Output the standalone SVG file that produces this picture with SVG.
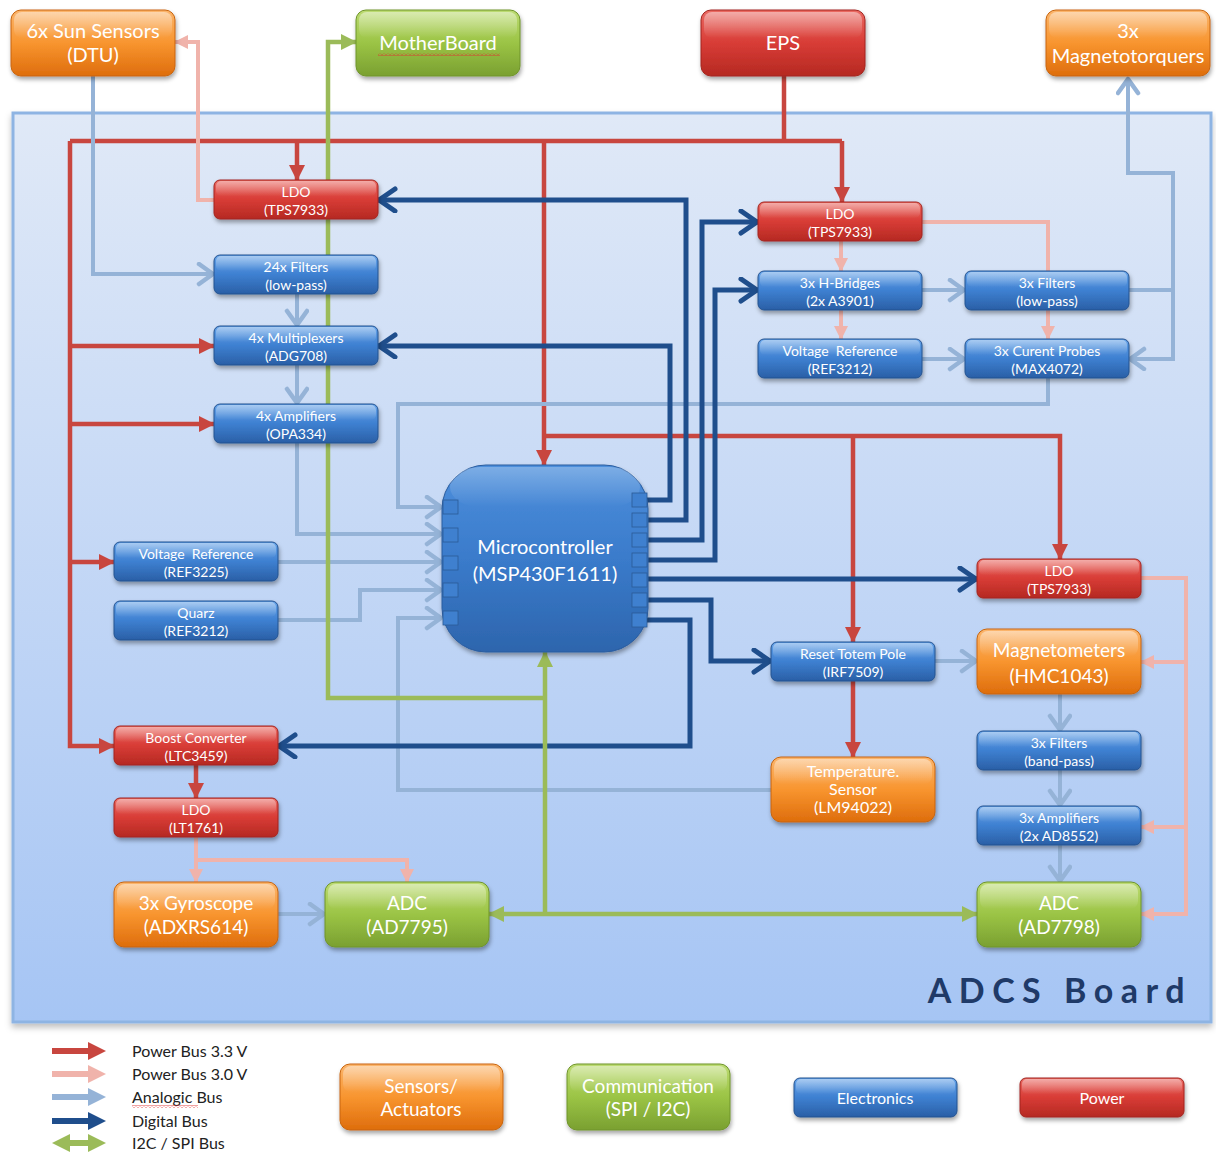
<svg xmlns="http://www.w3.org/2000/svg" width="1216" height="1153" viewBox="0 0 1216 1153">
  <defs>
    <linearGradient id="gBoard" x1="0" y1="0" x2="0" y2="1">
      <stop offset="0" stop-color="#e0e9f7"/>
      <stop offset="1" stop-color="#a6c5f4"/>
    </linearGradient>
    <linearGradient id="gOrange" x1="0" y1="0" x2="0" y2="1">
      <stop offset="0" stop-color="#fbb56c"/>
      <stop offset="0.5" stop-color="#f8952f"/>
      <stop offset="1" stop-color="#de6d0c"/>
    </linearGradient>
    <linearGradient id="gRed" x1="0" y1="0" x2="0" y2="1">
      <stop offset="0" stop-color="#ea6a63"/>
      <stop offset="0.5" stop-color="#d83c36"/>
      <stop offset="1" stop-color="#b52922"/>
    </linearGradient>
    <linearGradient id="gBlue" x1="0" y1="0" x2="0" y2="1">
      <stop offset="0" stop-color="#64a2e8"/>
      <stop offset="0.5" stop-color="#3e80d1"/>
      <stop offset="1" stop-color="#2a5fa6"/>
    </linearGradient>
    <linearGradient id="gGreen" x1="0" y1="0" x2="0" y2="1">
      <stop offset="0" stop-color="#bcdb72"/>
      <stop offset="0.5" stop-color="#9bc445"/>
      <stop offset="1" stop-color="#7aa031"/>
    </linearGradient>
    <linearGradient id="gMcu" x1="0" y1="0" x2="0" y2="1">
      <stop offset="0" stop-color="#4d8fdc"/>
      <stop offset="0.5" stop-color="#3a7bcb"/>
      <stop offset="1" stop-color="#2d65ad"/>
    </linearGradient>
    <linearGradient id="gGloss" x1="0" y1="0" x2="0" y2="1">
      <stop offset="0" stop-color="#fff" stop-opacity="0.45"/>
      <stop offset="1" stop-color="#fff" stop-opacity="0"/>
    </linearGradient>
    <filter id="shadow" x="-10%" y="-20%" width="130%" height="160%">
      <feDropShadow dx="1" dy="3" stdDeviation="2" flood-color="#000" flood-opacity="0.35"/>
    </filter>
    <filter id="boardShadow" x="-5%" y="-5%" width="110%" height="110%">
      <feDropShadow dx="0" dy="4" stdDeviation="3" flood-color="#000" flood-opacity="0.25"/>
    </filter>
    <pattern id="wavy" width="4" height="3" patternUnits="userSpaceOnUse">
      <polyline points="0,2.5 2,0.5 4,2.5" fill="none" stroke="#e03030" stroke-width="0.9"/>
    </pattern>

    <!-- arrowheads: filled triangles for power / I2C, open chevrons for signal buses -->
    <marker id="mRed" markerUnits="userSpaceOnUse" markerWidth="16" markerHeight="18" refX="15" refY="8" orient="auto">
      <path d="M0,0 L16,8 L0,16 Z" fill="#c8463f"/>
    </marker>
    <marker id="mPink" markerUnits="userSpaceOnUse" markerWidth="14" markerHeight="16" refX="13" refY="7" orient="auto">
      <path d="M0,0 L14,7 L0,14 Z" fill="#f0b3ab"/>
    </marker>
    <marker id="mGreen" markerUnits="userSpaceOnUse" markerWidth="16" markerHeight="18" refX="15" refY="8" orient="auto">
      <path d="M0,0 L16,8 L0,16 Z" fill="#9bbb59"/>
    </marker>
    <marker id="mGreenStart" markerUnits="userSpaceOnUse" markerWidth="16" markerHeight="18" refX="1" refY="8" orient="auto">
      <path d="M16,0 L0,8 L16,16 Z" fill="#9bbb59"/>
    </marker>
    <marker id="mAna" markerUnits="userSpaceOnUse" markerWidth="22" markerHeight="26" refX="19" refY="12" orient="auto">
      <polyline points="4,2 18,12 4,22" fill="none" stroke="#95b3d7" stroke-width="4.5" stroke-linecap="round" stroke-linejoin="round"/>
    </marker>
    <marker id="mDig" markerUnits="userSpaceOnUse" markerWidth="24" markerHeight="28" refX="21" refY="13" orient="auto">
      <polyline points="4,2 20,13 4,24" fill="none" stroke="#1f4e8c" stroke-width="5" stroke-linecap="round" stroke-linejoin="round"/>
    </marker>

    <style>
      .node text { font-family: Lato, "Open Sans", "Liberation Sans", sans-serif; fill: #fff; text-anchor: middle; white-space: pre; }
      .s14 { font-size: 14px; }
      .s16 { font-size: 16px; }
      .s19 { font-size: 19px; }
      .s20 { font-size: 20px; }
      .box { filter: url(#shadow); }
      .orange { fill: url(#gOrange); stroke: #c8650f; stroke-width: 1; }
      .red { fill: url(#gRed); stroke: #a2251f; stroke-width: 1; }
      .blue { fill: url(#gBlue); stroke: #25538f; stroke-width: 1; }
      .green { fill: url(#gGreen); stroke: #6f942a; stroke-width: 1; }
      .gloss { fill: url(#gGloss); }
      .pin { fill: #3f80cf; stroke: #2c5a96; stroke-width: 0.8; }
      .wire { fill: none; stroke-linejoin: miter; }
      .p33 { stroke: #c8463f; stroke-width: 4.5; }
      .p30 { stroke: #f0b3ab; stroke-width: 4; }
      .ana { stroke: #95b3d7; stroke-width: 4; }
      .dig { stroke: #1f4e8c; stroke-width: 5; }
      .i2c { stroke: #9bbb59; stroke-width: 4.5; }
      .legend text { font-family: Lato, "Open Sans", "Liberation Sans", sans-serif; font-size: 16px; fill: #222; }
    </style>
  </defs>

  <rect width="1216" height="1153" fill="#fff"/>

  <!-- board outline -->
  <g id="adcs-board">
    <rect x="13" y="113" width="1198" height="909" fill="url(#gBoard)" stroke="#8eb4e3" stroke-width="3" filter="url(#boardShadow)"/>
    <text x="1192" y="1003" text-anchor="end" font-family="Lato, 'Open Sans', 'Liberation Sans', sans-serif" font-size="34" font-weight="bold" letter-spacing="7.5" fill="#1f3a68">ADCS Board</text>
  </g>

  <!-- connectors -->
  <g id="connectors">
    <!-- 3.3 V power -->
    <path class="wire p33" d="M784,76 V141"/>
    <path class="wire p33" d="M70,141 H842"/>
    <path class="wire p33" d="M842,141 V202" marker-end="url(#mRed)"/>
    <path class="wire p33" d="M297,141 V180" marker-end="url(#mRed)"/>
    <path class="wire p33" d="M544,141 V465" marker-end="url(#mRed)"/>
    <path class="wire p33" d="M70,141 V746 H114" marker-end="url(#mRed)"/>
    <path class="wire p33" d="M70,346 H214" marker-end="url(#mRed)"/>
    <path class="wire p33" d="M70,424 H214" marker-end="url(#mRed)"/>
    <path class="wire p33" d="M70,562 H114" marker-end="url(#mRed)"/>
    <path class="wire p33" d="M544,436 H1060 V559" marker-end="url(#mRed)"/>
    <path class="wire p33" d="M853,436 V642" marker-end="url(#mRed)"/>
    <path class="wire p33" d="M853,681 V757" marker-end="url(#mRed)"/>
    <path class="wire p33" d="M196,765 V798" marker-end="url(#mRed)"/>

    <!-- 3.0 V power -->
    <path class="wire p30" d="M214,200 H198 V42 H175" marker-end="url(#mPink)"/>
    <path class="wire p30" d="M922,222 H1048 V271"/>
    <path class="wire p30" d="M1048,310 V339" marker-end="url(#mPink)"/>
    <path class="wire p30" d="M841,241 V271" marker-end="url(#mPink)"/>
    <path class="wire p30" d="M841,310 V339" marker-end="url(#mPink)"/>
    <path class="wire p30" d="M1141,578 H1186 V914 H1141" marker-end="url(#mPink)"/>
    <path class="wire p30" d="M1186,662 H1141" marker-end="url(#mPink)"/>
    <path class="wire p30" d="M1186,827 H1141" marker-end="url(#mPink)"/>
    <path class="wire p30" d="M196,837 V882" marker-end="url(#mPink)"/>
    <path class="wire p30" d="M196,860 H407 V882" marker-end="url(#mPink)"/>

    <!-- analogic bus -->
    <path class="wire ana" d="M93,76 V274 H214" marker-end="url(#mAna)"/>
    <path class="wire ana" d="M297,294 V326" marker-end="url(#mAna)"/>
    <path class="wire ana" d="M297,365 V404" marker-end="url(#mAna)"/>
    <path class="wire ana" d="M297,443 V534 H442" marker-end="url(#mAna)"/>
    <path class="wire ana" d="M1048,378 V404 H398 V507 H442" marker-end="url(#mAna)"/>
    <path class="wire ana" d="M278,562 H442" marker-end="url(#mAna)"/>
    <path class="wire ana" d="M278,620 H360 V590 H442" marker-end="url(#mAna)"/>
    <path class="wire ana" d="M771,790 H398 V618 H442" marker-end="url(#mAna)"/>
    <path class="wire ana" d="M922,290 H965" marker-end="url(#mAna)"/>
    <path class="wire ana" d="M922,359 H965" marker-end="url(#mAna)"/>
    <path class="wire ana" d="M1129,290 H1173"/>
    <path class="wire ana" d="M1173,173 V359 H1129" marker-end="url(#mAna)"/>
    <path class="wire ana" d="M1175,173 H1128 V78" marker-end="url(#mAna)"/>
    <path class="wire ana" d="M935,661 H977" marker-end="url(#mAna)"/>
    <path class="wire ana" d="M1060,694 V731" marker-end="url(#mAna)"/>
    <path class="wire ana" d="M1060,770 V806" marker-end="url(#mAna)"/>
    <path class="wire ana" d="M1060,845 V882" marker-end="url(#mAna)"/>
    <path class="wire ana" d="M278,914 H325" marker-end="url(#mAna)"/>

    <!-- digital bus -->
    <path class="wire dig" d="M646,500 H670 V346 H378" marker-end="url(#mDig)"/>
    <path class="wire dig" d="M646,520 H686 V200 H378" marker-end="url(#mDig)"/>
    <path class="wire dig" d="M646,540 H702 V222 H758" marker-end="url(#mDig)"/>
    <path class="wire dig" d="M646,560 H715 V290 H758" marker-end="url(#mDig)"/>
    <path class="wire dig" d="M646,579 H977" marker-end="url(#mDig)"/>
    <path class="wire dig" d="M646,600 H711 V661 H771" marker-end="url(#mDig)"/>
    <path class="wire dig" d="M646,620 H690 V746 H278" marker-end="url(#mDig)"/>

    <!-- I2C / SPI bus -->
    <path class="wire i2c" d="M545,698 H328 V42 H356" marker-end="url(#mGreen)"/>
    <path class="wire i2c" d="M545,914 V652" marker-end="url(#mGreen)"/>
    <path class="wire i2c" d="M489,914 H977" marker-start="url(#mGreenStart)" marker-end="url(#mGreen)"/>
  </g>

  <!-- external units -->
  <g id="sun-sensors" class="node">
    <rect class="box orange" x="11" y="10" width="164" height="66" rx="10"/>
    <rect class="gloss" x="14" y="12" width="158" height="26" rx="8"/>
    <text class="s20" x="93" y="38">6x Sun Sensors</text>
    <text class="s20" x="93" y="62">(DTU)</text>
  </g>
  <g id="motherboard" class="node">
    <rect class="box green" x="356" y="10" width="164" height="66" rx="10"/>
    <rect class="gloss" x="359" y="12" width="158" height="26" rx="8"/>
    <text class="s20" x="438" y="50">MotherBoard</text>
    <rect x="378" y="53" width="122" height="3" fill="url(#wavy)"/>
  </g>
  <g id="eps" class="node">
    <rect class="box red" x="701" y="10" width="164" height="66" rx="10"/>
    <rect class="gloss" x="704" y="12" width="158" height="26" rx="8"/>
    <text class="s20" x="783" y="50">EPS</text>
  </g>
  <g id="magnetotorquers" class="node">
    <rect class="box orange" x="1046" y="10" width="164" height="66" rx="10"/>
    <rect class="gloss" x="1049" y="12" width="158" height="26" rx="8"/>
    <text class="s20" x="1128" y="38">3x</text>
    <text class="s20" x="1128" y="63">Magnetotorquers</text>
  </g>

  <!-- sun sensor chain -->
  <g id="ldo-left" class="node">
    <rect class="box red" x="214" y="180" width="164" height="39" rx="6"/>
    <rect class="gloss" x="216" y="181" width="160" height="15" rx="5"/>
    <text class="s14" x="296" y="197">LDO</text>
    <text class="s14" x="296" y="215">(TPS7933)</text>
  </g>
  <g id="filters-24" class="node">
    <rect class="box blue" x="214" y="255" width="164" height="39" rx="6"/>
    <rect class="gloss" x="216" y="256" width="160" height="15" rx="5"/>
    <text class="s14" x="296" y="272">24x Filters</text>
    <text class="s14" x="296" y="290">(low-pass)</text>
  </g>
  <g id="multiplexers" class="node">
    <rect class="box blue" x="214" y="326" width="164" height="39" rx="6"/>
    <rect class="gloss" x="216" y="327" width="160" height="15" rx="5"/>
    <text class="s14" x="296" y="343">4x Multiplexers</text>
    <text class="s14" x="296" y="361">(ADG708)</text>
  </g>
  <g id="amplifiers-4" class="node">
    <rect class="box blue" x="214" y="404" width="164" height="39" rx="6"/>
    <rect class="gloss" x="216" y="405" width="160" height="15" rx="5"/>
    <text class="s14" x="296" y="421">4x Amplifiers</text>
    <text class="s14" x="296" y="439">(OPA334)</text>
  </g>

  <!-- references, clock and gyro supply -->
  <g id="vref-ref3225" class="node">
    <rect class="box blue" x="114" y="542" width="164" height="39" rx="6"/>
    <rect class="gloss" x="116" y="543" width="160" height="15" rx="5"/>
    <text class="s14" x="196" y="559">Voltage  Reference</text>
    <text class="s14" x="196" y="577">(REF3225)</text>
  </g>
  <g id="quarz" class="node">
    <rect class="box blue" x="114" y="601" width="164" height="39" rx="6"/>
    <rect class="gloss" x="116" y="602" width="160" height="15" rx="5"/>
    <text class="s14" x="196" y="618">Quarz</text>
    <text class="s14" x="196" y="636">(REF3212)</text>
  </g>
  <g id="boost-converter" class="node">
    <rect class="box red" x="114" y="726" width="164" height="39" rx="6"/>
    <rect class="gloss" x="116" y="727" width="160" height="15" rx="5"/>
    <text class="s14" x="196" y="743">Boost Converter</text>
    <text class="s14" x="196" y="761">(LTC3459)</text>
  </g>
  <g id="ldo-lt1761" class="node">
    <rect class="box red" x="114" y="798" width="164" height="39" rx="6"/>
    <rect class="gloss" x="116" y="799" width="160" height="15" rx="5"/>
    <text class="s14" x="196" y="815">LDO</text>
    <text class="s14" x="196" y="833">(LT1761)</text>
  </g>
  <g id="gyroscope" class="node">
    <rect class="box orange" x="114" y="882" width="164" height="65" rx="10"/>
    <rect class="gloss" x="117" y="884" width="158" height="25" rx="8"/>
    <text class="s19" x="196" y="910">3x Gyroscope</text>
    <text class="s19" x="196" y="934">(ADXRS614)</text>
  </g>
  <g id="adc-ad7795" class="node">
    <rect class="box green" x="325" y="882" width="164" height="65" rx="10"/>
    <rect class="gloss" x="328" y="884" width="158" height="25" rx="8"/>
    <text class="s19" x="407" y="910">ADC</text>
    <text class="s19" x="407" y="934">(AD7795)</text>
  </g>

  <!-- microcontroller -->
  <g id="microcontroller" class="node">
    <rect class="box" x="442" y="465" width="206" height="187" rx="44" fill="url(#gMcu)" stroke="#2a5c9e" stroke-width="1"/>
    <rect class="gloss" x="450" y="467" width="190" height="40" rx="30" opacity="0.6"/>
    <rect class="pin" x="443" y="500" width="15" height="14"/>
    <rect class="pin" x="443" y="528" width="15" height="14"/>
    <rect class="pin" x="443" y="556" width="15" height="14"/>
    <rect class="pin" x="443" y="583" width="15" height="14"/>
    <rect class="pin" x="443" y="611" width="15" height="14"/>
    <rect class="pin" x="632" y="493" width="15" height="14"/>
    <rect class="pin" x="632" y="513" width="15" height="14"/>
    <rect class="pin" x="632" y="533" width="15" height="14"/>
    <rect class="pin" x="632" y="553" width="15" height="14"/>
    <rect class="pin" x="632" y="573" width="15" height="14"/>
    <rect class="pin" x="632" y="593" width="15" height="14"/>
    <rect class="pin" x="632" y="613" width="15" height="14"/>
    <text class="s20" x="545" y="554">Microcontroller</text>
    <text class="s20" x="545" y="581">(MSP430F1611)</text>
  </g>

  <!-- magnetotorquer driver chain -->
  <g id="ldo-right-top" class="node">
    <rect class="box red" x="758" y="202" width="164" height="39" rx="6"/>
    <rect class="gloss" x="760" y="203" width="160" height="15" rx="5"/>
    <text class="s14" x="840" y="219">LDO</text>
    <text class="s14" x="840" y="237">(TPS7933)</text>
  </g>
  <g id="h-bridges" class="node">
    <rect class="box blue" x="758" y="271" width="164" height="39" rx="6"/>
    <rect class="gloss" x="760" y="272" width="160" height="15" rx="5"/>
    <text class="s14" x="840" y="288">3x H-Bridges</text>
    <text class="s14" x="840" y="306">(2x A3901)</text>
  </g>
  <g id="filters-3-lp" class="node">
    <rect class="box blue" x="965" y="271" width="164" height="39" rx="6"/>
    <rect class="gloss" x="967" y="272" width="160" height="15" rx="5"/>
    <text class="s14" x="1047" y="288">3x Filters</text>
    <text class="s14" x="1047" y="306">(low-pass)</text>
  </g>
  <g id="vref-ref3212" class="node">
    <rect class="box blue" x="758" y="339" width="164" height="39" rx="6"/>
    <rect class="gloss" x="760" y="340" width="160" height="15" rx="5"/>
    <text class="s14" x="840" y="356">Voltage  Reference</text>
    <text class="s14" x="840" y="374">(REF3212)</text>
  </g>
  <g id="current-probes" class="node">
    <rect class="box blue" x="965" y="339" width="164" height="39" rx="6"/>
    <rect class="gloss" x="967" y="340" width="160" height="15" rx="5"/>
    <text class="s14" x="1047" y="356">3x Curent Probes</text>
    <text class="s14" x="1047" y="374">(MAX4072)</text>
  </g>

  <!-- magnetometer chain -->
  <g id="ldo-right" class="node">
    <rect class="box red" x="977" y="559" width="164" height="39" rx="6"/>
    <rect class="gloss" x="979" y="560" width="160" height="15" rx="5"/>
    <text class="s14" x="1059" y="576">LDO</text>
    <text class="s14" x="1059" y="594">(TPS7933)</text>
  </g>
  <g id="reset-totem-pole" class="node">
    <rect class="box blue" x="771" y="642" width="164" height="39" rx="6"/>
    <rect class="gloss" x="773" y="643" width="160" height="15" rx="5"/>
    <text class="s14" x="853" y="659">Reset Totem Pole</text>
    <text class="s14" x="853" y="677">(IRF7509)</text>
  </g>
  <g id="magnetometers" class="node">
    <rect class="box orange" x="977" y="629" width="164" height="65" rx="10"/>
    <rect class="gloss" x="980" y="631" width="158" height="25" rx="8"/>
    <text class="s19" x="1059" y="657">Magnetometers</text>
    <text class="s19" x="1059" y="683">(HMC1043)</text>
  </g>
  <g id="temperature-sensor" class="node">
    <rect class="box orange" x="771" y="757" width="164" height="65" rx="10"/>
    <rect class="gloss" x="774" y="759" width="158" height="25" rx="8"/>
    <text class="s16" x="853" y="777">Temperature.</text>
    <text class="s16" x="853" y="795">Sensor</text>
    <text class="s16" x="853" y="813">(LM94022)</text>
  </g>
  <g id="filters-bp" class="node">
    <rect class="box blue" x="977" y="731" width="164" height="39" rx="6"/>
    <rect class="gloss" x="979" y="732" width="160" height="15" rx="5"/>
    <text class="s14" x="1059" y="748">3x Filters</text>
    <text class="s14" x="1059" y="766">(band-pass)</text>
  </g>
  <g id="amplifiers-3" class="node">
    <rect class="box blue" x="977" y="806" width="164" height="39" rx="6"/>
    <rect class="gloss" x="979" y="807" width="160" height="15" rx="5"/>
    <text class="s14" x="1059" y="823">3x Amplifiers</text>
    <text class="s14" x="1059" y="841">(2x AD8552)</text>
  </g>
  <g id="adc-ad7798" class="node">
    <rect class="box green" x="977" y="882" width="164" height="65" rx="10"/>
    <rect class="gloss" x="980" y="884" width="158" height="25" rx="8"/>
    <text class="s19" x="1059" y="910">ADC</text>
    <text class="s19" x="1059" y="934">(AD7798)</text>
  </g>

  <!-- legend -->
  <g id="legend" class="legend">
    <path d="M52,1051 H90" stroke="#c8463f" stroke-width="6"/>
    <path d="M88,1042 L106,1051 L88,1060 Z" fill="#c8463f"/>
    <path d="M52,1074 H90" stroke="#f0b3ab" stroke-width="6"/>
    <path d="M88,1065 L106,1074 L88,1083 Z" fill="#f0b3ab"/>
    <path d="M52,1097 H90" stroke="#95b3d7" stroke-width="6"/>
    <path d="M88,1088 L106,1097 L88,1106 Z" fill="#95b3d7"/>
    <path d="M52,1121 H90" stroke="#1f4e8c" stroke-width="6"/>
    <path d="M88,1112 L106,1121 L88,1130 Z" fill="#1f4e8c"/>
    <path d="M68,1143 H90" stroke="#9bbb59" stroke-width="6"/>
    <path d="M88,1134 L106,1143 L88,1152 Z" fill="#9bbb59"/>
    <path d="M70,1134 L52,1143 L70,1152 Z" fill="#9bbb59"/>
    <text x="132" y="1057">Power Bus 3.3 V</text>
    <text x="132" y="1080">Power Bus 3.0 V</text>
    <text x="132" y="1103">Analogic Bus</text>
    <rect x="132" y="1105" width="66" height="3" fill="url(#wavy)"/>
    <text x="132" y="1127">Digital Bus</text>
    <text x="132" y="1149">I2C / SPI Bus</text>
  </g>
  <g id="legend-sensors" class="node">
    <rect class="box orange" x="340" y="1064" width="163" height="66" rx="10"/>
    <rect class="gloss" x="343" y="1066" width="157" height="26" rx="8"/>
    <text class="s19" x="421" y="1093">Sensors/</text>
    <text class="s19" x="421" y="1116">Actuators</text>
  </g>
  <g id="legend-communication" class="node">
    <rect class="box green" x="567" y="1064" width="163" height="66" rx="10"/>
    <rect class="gloss" x="570" y="1066" width="157" height="26" rx="8"/>
    <text class="s19" x="648" y="1093">Communication</text>
    <text class="s19" x="648" y="1116">(SPI / I2C)</text>
  </g>
  <g id="legend-electronics" class="node">
    <rect class="box blue" x="794" y="1078" width="163" height="39" rx="6"/>
    <rect class="gloss" x="796" y="1079" width="159" height="15" rx="5"/>
    <text class="s16" x="875" y="1104">Electronics</text>
  </g>
  <g id="legend-power" class="node">
    <rect class="box red" x="1020" y="1078" width="164" height="39" rx="6"/>
    <rect class="gloss" x="1022" y="1079" width="160" height="15" rx="5"/>
    <text class="s16" x="1102" y="1104">Power</text>
  </g>
</svg>
